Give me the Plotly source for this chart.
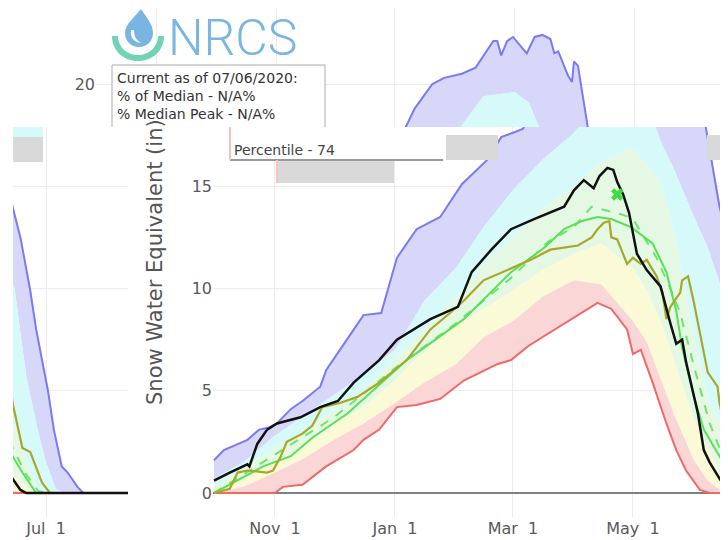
import plotly.graph_objects as go
import pandas as pd

W, H = 728, 540
OFF = 8  # page margin of the html body (screen px = figure px + OFF)

# ---------------- data (inches of SWE, water year 2020) ----------------
band_dates = ["2019-10-01", "2019-10-16", "2019-11-01", "2019-11-16", "2019-12-01", "2019-12-16",
              "2020-01-01", "2020-01-16", "2020-02-01", "2020-02-15", "2020-03-01", "2020-03-16",
              "2020-04-01", "2020-04-15", "2020-05-01", "2020-05-08", "2020-05-15", "2020-05-22",
              "2020-06-01", "2020-06-08", "2020-06-15", "2020-06-21", "2020-06-27", "2020-07-01",
              "2020-07-06", "2020-07-11", "2020-07-17", "2020-07-22", "2020-08-01", "2020-08-16"]
p90 = [0.7, 1.5, 2.8, 3.8, 4.8, 5.8, 7.0, 9.4, 11.0, 13.0, 14.8, 16.3, 17.6, 19.4, 19.6, 19.1,
       17.2, 15.8, 13.5, 12.0, 10.0, 5.7, 3.0, 1.5, 0.2, 0, 0, 0, 0, 0]
p70 = [0.3, 1.2, 2.2, 3.0, 4.1, 5.0, 6.6, 8.0, 9.6, 11.2, 12.5, 13.9, 15.0, 16.2, 16.9, 16.0,
       15.2, 12.6, 7.6, 4.7, 3.2, 1.5, 0.1, 0, 0, 0, 0, 0, 0, 0]
p50 = [0, 0.7, 1.5, 2.3, 3.4, 4.2, 5.5, 7.0, 8.2, 9.0, 9.9, 10.9, 11.7, 12.2, 11.0, 9.9,
       8.4, 6.4, 3.6, 2.2, 0.8, 0.3, 0, 0, 0, 0, 0, 0, 0, 0]
p30 = [0, 0.3, 1.0, 1.7, 2.6, 3.4, 4.4, 5.4, 6.3, 7.6, 8.4, 9.6, 10.4, 10.2, 8.4, 7.4,
       5.6, 3.8, 1.6, 0.6, 0.1, 0, 0, 0, 0, 0, 0, 0, 0, 0]

max_dates = ["2019-10-01", "2019-10-06", "2019-10-18", "2019-10-24", "2019-10-29", "2019-11-02",
             "2019-11-09", "2019-11-15", "2019-11-24", "2019-11-27", "2019-12-04", "2019-12-16",
             "2019-12-25", "2020-01-02", "2020-01-12", "2020-01-24", "2020-02-04", "2020-02-17",
             "2020-02-24", "2020-03-06", "2020-03-11", "2020-03-20", "2020-03-26", "2020-04-04",
             "2020-04-11", "2020-04-20", "2020-04-22", "2020-04-24", "2020-04-27", "2020-04-30",
             "2020-05-07", "2020-05-11", "2020-05-15", "2020-05-19", "2020-05-21", "2020-05-23",
             "2020-05-28", "2020-05-30", "2020-05-31", "2020-06-02", "2020-06-07", "2020-06-14",
             "2020-06-18", "2020-06-23", "2020-06-26", "2020-07-02", "2020-07-05", "2020-07-09",
             "2020-07-12", "2020-07-17", "2020-07-20", "2020-08-16"]
max_vals = [1.6, 2.1, 2.6, 3.1, 3.2, 3.4, 4.1, 4.5, 5.2, 6.0, 7.0, 8.7, 8.8, 11.5, 12.9, 13.5,
            15.1, 16.3, 17.4, 17.8, 18.8, 20.0, 20.3, 20.5, 20.8, 22.1, 22.1, 21.4, 22.1, 22.3,
            21.5, 22.3, 22.4, 22.2, 21.5, 21.6, 20.4, 20.1, 21.1, 20.9, 17.9, 14.0, 12.5, 9.9,
            8.0, 5.0, 3.1, 1.3, 1.0, 0.3, 0, 0]

min_dates = ["2019-10-01", "2019-11-01", "2019-11-05", "2019-11-15", "2019-11-27", "2019-12-11",
             "2019-12-16", "2019-12-24", "2020-01-02", "2020-01-12", "2020-01-24", "2020-02-05",
             "2020-02-22", "2020-02-29", "2020-03-09", "2020-03-27", "2020-04-13", "2020-04-20",
             "2020-04-28", "2020-05-01", "2020-05-05", "2020-05-11", "2020-05-18", "2020-05-23",
             "2020-05-28", "2020-06-04", "2020-06-09", "2020-08-16"]
min_vals = [0, 0, 0.3, 0.4, 1.3, 2.1, 2.6, 3.1, 4.2, 4.3, 4.6, 5.5, 6.3, 6.5, 7.2, 8.3, 9.3, 9.0,
            8.0, 6.8, 7.0, 5.4, 3.4, 2.1, 1.1, 0.15, 0, 0]

median_dates = ["2019-10-01", "2019-10-26", "2019-11-09", "2019-11-20", "2019-12-08", "2019-12-24",
                "2020-01-07", "2020-02-05", "2020-02-29", "2020-03-17", "2020-03-27", "2020-04-05",
                "2020-04-13", "2020-04-20", "2020-04-30", "2020-05-11", "2020-05-18", "2020-05-23",
                "2020-05-26", "2020-06-01", "2020-06-06", "2020-06-14", "2020-06-19", "2020-06-26",
                "2020-08-16"]
median_vals = [0.0, 1.3, 1.8, 2.7, 3.9, 5.3, 6.5, 8.5, 10.8, 12.0, 12.9, 13.3, 13.5, 13.4, 13.0,
               12.2, 10.8, 8.9, 7.1, 4.7, 3.1, 1.8, 1.0, 0, 0]

avg_dates = ["2019-10-01", "2019-11-01", "2019-12-01", "2020-01-01", "2020-02-01", "2020-03-01",
             "2020-03-19", "2020-04-01", "2020-04-10", "2020-04-18", "2020-04-26", "2020-05-01",
             "2020-05-06", "2020-05-13", "2020-05-20", "2020-05-25", "2020-06-01", "2020-06-09",
             "2020-06-14", "2020-06-21", "2020-06-27", "2020-07-01", "2020-08-16"]
avg_vals = [0, 1.9, 3.7, 6.1, 8.3, 10.6, 12.3, 13.0, 14.0, 13.8, 13.6, 13.4, 12.6, 11.5, 10.0,
            8.8, 6.2, 3.4, 2.2, 0.9, 0.1, 0, 0]

wy2019_dates = ["2019-10-01", "2019-10-09", "2019-10-13", "2019-10-18", "2019-10-28", "2019-10-31",
                "2019-11-04", "2019-11-07", "2019-11-15", "2019-11-20", "2019-11-25", "2019-12-04",
                "2019-12-13", "2019-12-24", "2020-01-07", "2020-01-19", "2020-01-29", "2020-02-05",
                "2020-02-15", "2020-02-27", "2020-03-10", "2020-03-20", "2020-03-27", "2020-04-03",
                "2020-04-10", "2020-04-13", "2020-04-16", "2020-04-19", "2020-04-20", "2020-04-23",
                "2020-04-28", "2020-05-01", "2020-05-05", "2020-05-08", "2020-05-13", "2020-05-16",
                "2020-05-18", "2020-05-20", "2020-05-25", "2020-05-26", "2020-05-29", "2020-06-01",
                "2020-06-08", "2020-06-13", "2020-06-14", "2020-06-19", "2020-06-23", "2020-06-29",
                "2020-07-03", "2020-08-16"]
wy2019_vals = [0, 0.2, 1.0, 1.1, 1.0, 1.1, 1.8, 2.5, 2.9, 3.3, 4.2, 4.4, 4.7, 5.4, 6.5, 8.0, 8.8,
               9.4, 10.4, 10.9, 11.4, 11.9, 12.0, 12.1, 12.5, 12.9, 13.2, 13.3, 12.5, 12.4, 11.2,
               11.5, 11.2, 11.4, 10.6, 9.8, 8.5, 9.1, 9.8, 10.4, 10.6, 9.3, 5.9, 5.2, 4.4, 2.2, 2.0,
               0.5, 0, 0]

wy2020_dates = ["2019-10-01", "2019-10-09", "2019-10-18", "2019-10-19", "2019-10-23", "2019-10-28",
                "2019-11-02", "2019-11-14", "2019-11-24", "2019-12-03", "2019-12-11", "2019-12-18",
                "2019-12-24", "2020-01-02", "2020-01-19", "2020-02-02", "2020-02-09", "2020-02-19",
                "2020-02-29", "2020-03-12", "2020-03-20", "2020-03-27", "2020-04-01", "2020-04-06",
                "2020-04-11", "2020-04-14", "2020-04-18", "2020-04-21", "2020-04-23", "2020-04-26",
                "2020-04-29", "2020-05-03", "2020-05-08", "2020-05-15", "2020-05-20", "2020-05-23",
                "2020-05-26", "2020-05-28", "2020-06-03", "2020-06-06", "2020-06-09", "2020-06-14",
                "2020-06-18", "2020-06-21", "2020-08-16"]
wy2020_vals = [0.6, 1.0, 1.4, 1.3, 2.4, 3.1, 3.4, 3.7, 4.2, 4.5, 5.4, 6.0, 6.5, 7.5, 8.5, 9.1,
               10.8, 11.9, 12.9, 13.4, 13.7, 14.0, 14.8, 15.3, 14.9, 15.5, 15.9, 15.8, 15.2, 14.6,
               13.7, 11.7, 10.9, 10.1, 8.3, 7.3, 7.5, 6.4, 3.9, 2.1, 1.5, 0.7, 0.15, 0, 0]

peak_date = ["2020-04-23"]
peak_val = [14.6]

box1_lines = ["Current as of 07/06/2020:", "% of Median - N/A%", "% Median Peak - N/A%"]
box2_line = "Percentile - 74"
y_title = "Snow Water Equivalent (in)"

# ---------------- styling ----------------
PURPLE_FILL = "rgb(215,215,249)"
CYAN_FILL = "rgb(214,250,250)"
GREEN_FILL = "rgb(228,248,228)"
YELLOW_FILL = "rgb(250,250,214)"
PINK_FILL = "rgb(250,214,214)"
PURPLE = "rgb(122,122,242)"
RED = "rgb(240,104,104)"
GREEN = "rgb(88,224,88)"
DGREEN = "rgb(110,228,110)"
OLIVE = "rgb(168,168,38)"
BLACK = "#111111"
FONT = "DejaVu Sans"

START = pd.Timestamp("2019-10-01")
PXD = 1.967  # pixels per day


def date_at(px, origin_px):
    return START + pd.Timedelta(days=(px - origin_px) / PXD)


def px2val(py):
    return (493 - py) / 20.45


def fx(px):
    return (px - OFF) / W


def fy(py):
    return 1 - (py - OFF) / H


fig = go.Figure()


def add_set(xa, ya):
    c = dict(xaxis=xa, yaxis=ya, hoverinfo="skip", showlegend=False, mode="lines")
    nl = dict(width=0, color="rgba(0,0,0,0)")
    fig.add_trace(go.Scatter(x=band_dates, y=p90, line=nl, **c))
    fig.add_trace(go.Scatter(x=max_dates, y=max_vals, line=nl, fill="tonexty", fillcolor=PURPLE_FILL, **c))
    fig.add_trace(go.Scatter(x=band_dates, y=p70, line=nl, **c))
    fig.add_trace(go.Scatter(x=band_dates, y=p90, line=nl, fill="tonexty", fillcolor=CYAN_FILL, **c))
    fig.add_trace(go.Scatter(x=band_dates, y=p50, line=nl, **c))
    fig.add_trace(go.Scatter(x=band_dates, y=p70, line=nl, fill="tonexty", fillcolor=GREEN_FILL, **c))
    fig.add_trace(go.Scatter(x=band_dates, y=p30, line=nl, **c))
    fig.add_trace(go.Scatter(x=band_dates, y=p50, line=nl, fill="tonexty", fillcolor=YELLOW_FILL, **c))
    fig.add_trace(go.Scatter(x=min_dates, y=min_vals, line=nl, **c))
    fig.add_trace(go.Scatter(x=band_dates, y=p30, line=nl, fill="tonexty", fillcolor=PINK_FILL, **c))
    fig.add_trace(go.Scatter(x=max_dates, y=max_vals, line=dict(color=PURPLE, width=2), **c))
    fig.add_trace(go.Scatter(x=min_dates, y=min_vals, line=dict(color=RED, width=2), **c))
    fig.add_trace(go.Scatter(x=avg_dates, y=avg_vals, line=dict(color=DGREEN, width=2, dash="dash"), **c))
    fig.add_trace(go.Scatter(x=median_dates, y=median_vals, line=dict(color=GREEN, width=2), **c))
    fig.add_trace(go.Scatter(x=wy2019_dates, y=wy2019_vals, line=dict(color=OLIVE, width=2.2), **c))
    fig.add_trace(go.Scatter(x=wy2020_dates, y=wy2020_vals, line=dict(color=BLACK, width=2.5), **c))
    fig.add_trace(go.Scatter(x=peak_date, y=peak_val, mode="markers", xaxis=xa, yaxis=ya,
                             hoverinfo="skip", showlegend=False,
                             marker=dict(symbol="x", size=11, color="rgb(60,220,60)")))


add_set("x", "y")     # main lower panel
add_set("x2", "y2")   # wrapped left panel (June-August)
add_set("x3", "y3")   # top strip

grid = "#ececec"
tickfont = dict(family=FONT, size=16, color="#5a5a5a")
xcommon = dict(type="date", dtick="M2", tick0="2019-11-01", tickformat="%b\u00a0%e",
               showgrid=True, gridcolor=grid, gridwidth=1, showline=False, zeroline=False,
               tickfont=tickfont, ticks="", fixedrange=True)
lower_dom = [fy(517), fy(127)]
lower_rng = [px2val(517), px2val(127)]
ycommon = dict(dtick=5, tick0=0, showgrid=True, gridcolor=grid, gridwidth=1, tickfont=tickfont,
               ticks="", showline=False, fixedrange=True)

fig.update_layout(
    width=W, height=H, margin=dict(l=0, r=0, t=0, b=0),
    paper_bgcolor="white", plot_bgcolor="white", showlegend=False,
    font=dict(family=FONT, color="#444"),
    xaxis=dict(domain=[fx(213), fx(721)], anchor="y",
               range=[date_at(213, 214), date_at(721, 214)], **xcommon),
    yaxis=dict(domain=lower_dom, anchor="x", range=lower_rng, zeroline=True,
               zerolinecolor="#808080", zerolinewidth=1.5, **ycommon),
    xaxis2=dict(domain=[fx(13), fx(128)], anchor="y2",
                range=[date_at(13, 46 - 274 * PXD), date_at(128, 46 - 274 * PXD)], **xcommon),
    yaxis2=dict(domain=lower_dom, anchor="x2", range=lower_rng, zeroline=True,
                zerolinecolor="#808080", zerolinewidth=1.5, showticklabels=False, **ycommon),
    xaxis3=dict(domain=[fx(96), fx(721)], anchor="y3", showticklabels=False,
                range=[date_at(96, 96), date_at(721, 96)], **xcommon),
    yaxis3=dict(domain=[fy(127), 1], anchor="x3", range=[px2val(127), px2val(OFF)],
                zeroline=False, **ycommon),
)


def P(x, y):
    return f"{fx(x):.5f},{fy(y):.5f}"


shapes = []


def rect(x0, y0, x1, y1, fill):
    shapes.append(dict(type="rect", xref="paper", yref="paper", x0=fx(x0), x1=fx(x1),
                       y0=fy(y1), y1=fy(y0), fillcolor=fill, layer="above", line=dict(width=0)))


def path(cmds, fill=None, color=None, width=0):
    s = ""
    for c in cmds:
        s += (c if isinstance(c, str) else P(*c)) + " "
    shapes.append(dict(type="path", xref="paper", yref="paper", path=s.strip(), layer="above",
                       fillcolor=fill if fill else "rgba(0,0,0,0)",
                       line=dict(color=color if color else "rgba(0,0,0,0)", width=width)))


# logo: drop and arc
path(["M", (141, 9), "C", (146, 17), (153, 24), (153, 33), "C", (153, 41), (147, 47), (139, 47),
      "C", (131, 47), (125, 41), (125, 33), "C", (125, 24), (135, 17), (141, 9), "Z"], fill="#78b5e2")
path(["M", (131, 30), "C", (130, 38), (134, 42), (141, 43), "C", (136, 40), (134, 36), (134, 30), "Z"],
     fill="white")
path(["M", (112, 36), "C", (112, 51), (124, 61), (138, 61), "C", (152, 61), (164, 51), (164, 36),
      "L", (158, 36), "C", (158, 47), (149, 55), (138, 55), "C", (127, 55), (118, 47), (118, 36), "Z"],
     fill="#72d2b6")

# tooltip-like box 1
rect(112, 65, 325, 127, "white")
path(["M", (112, 127), "L", (112, 65), "L", (325, 65), "L", (325, 127)], color="#aaaaaa", width=1)
# box 2
rect(230, 127, 443, 160, "white")
rect(278, 160, 394, 183, "#d9d9d9")
path(["M", (230, 160), "L", (443, 160)], color="#9a9a9a", width=2)
path(["M", (230, 127), "L", (230, 160)], color="#f3c4c4", width=2)
path(["M", (277, 160), "L", (277, 183)], color="#f3c4c4", width=2)
# other artefact blocks
rect(13, 127, 43, 137, CYAN_FILL)
rect(13, 137, 43, 162, "#d9d9d9")
rect(446, 135, 498, 160, "#d9d9d9")
rect(707, 135, 728, 160, "#d9d9d9")

annotations = [
    dict(text="NRCS", xref="paper", yref="paper", x=fx(166), y=fy(38), xanchor="left",
         yanchor="middle", showarrow=False,
         font=dict(family="Roboto, DejaVu Sans, sans-serif", size=50, color="#7ab6e2", weight=300)),
    dict(text="<br>".join(box1_lines), xref="paper", yref="paper", x=fx(115), y=fy(68),
         xanchor="left", yanchor="top", align="left", showarrow=False,
         font=dict(family=FONT, size=14, color="#333")),
    dict(text=box2_line, xref="paper", yref="paper", x=fx(232), y=fy(150),
         xanchor="left", yanchor="middle", align="left", showarrow=False,
         font=dict(family=FONT, size=14, color="#444")),
    dict(text=y_title, xref="paper", yref="paper", x=fx(155), y=fy(262), textangle=-90,
         xanchor="center", yanchor="middle", showarrow=False,
         font=dict(family=FONT, size=21, color="#555")),
]

fig.update_layout(shapes=shapes, annotations=annotations)
fig.write_html("out.html")
